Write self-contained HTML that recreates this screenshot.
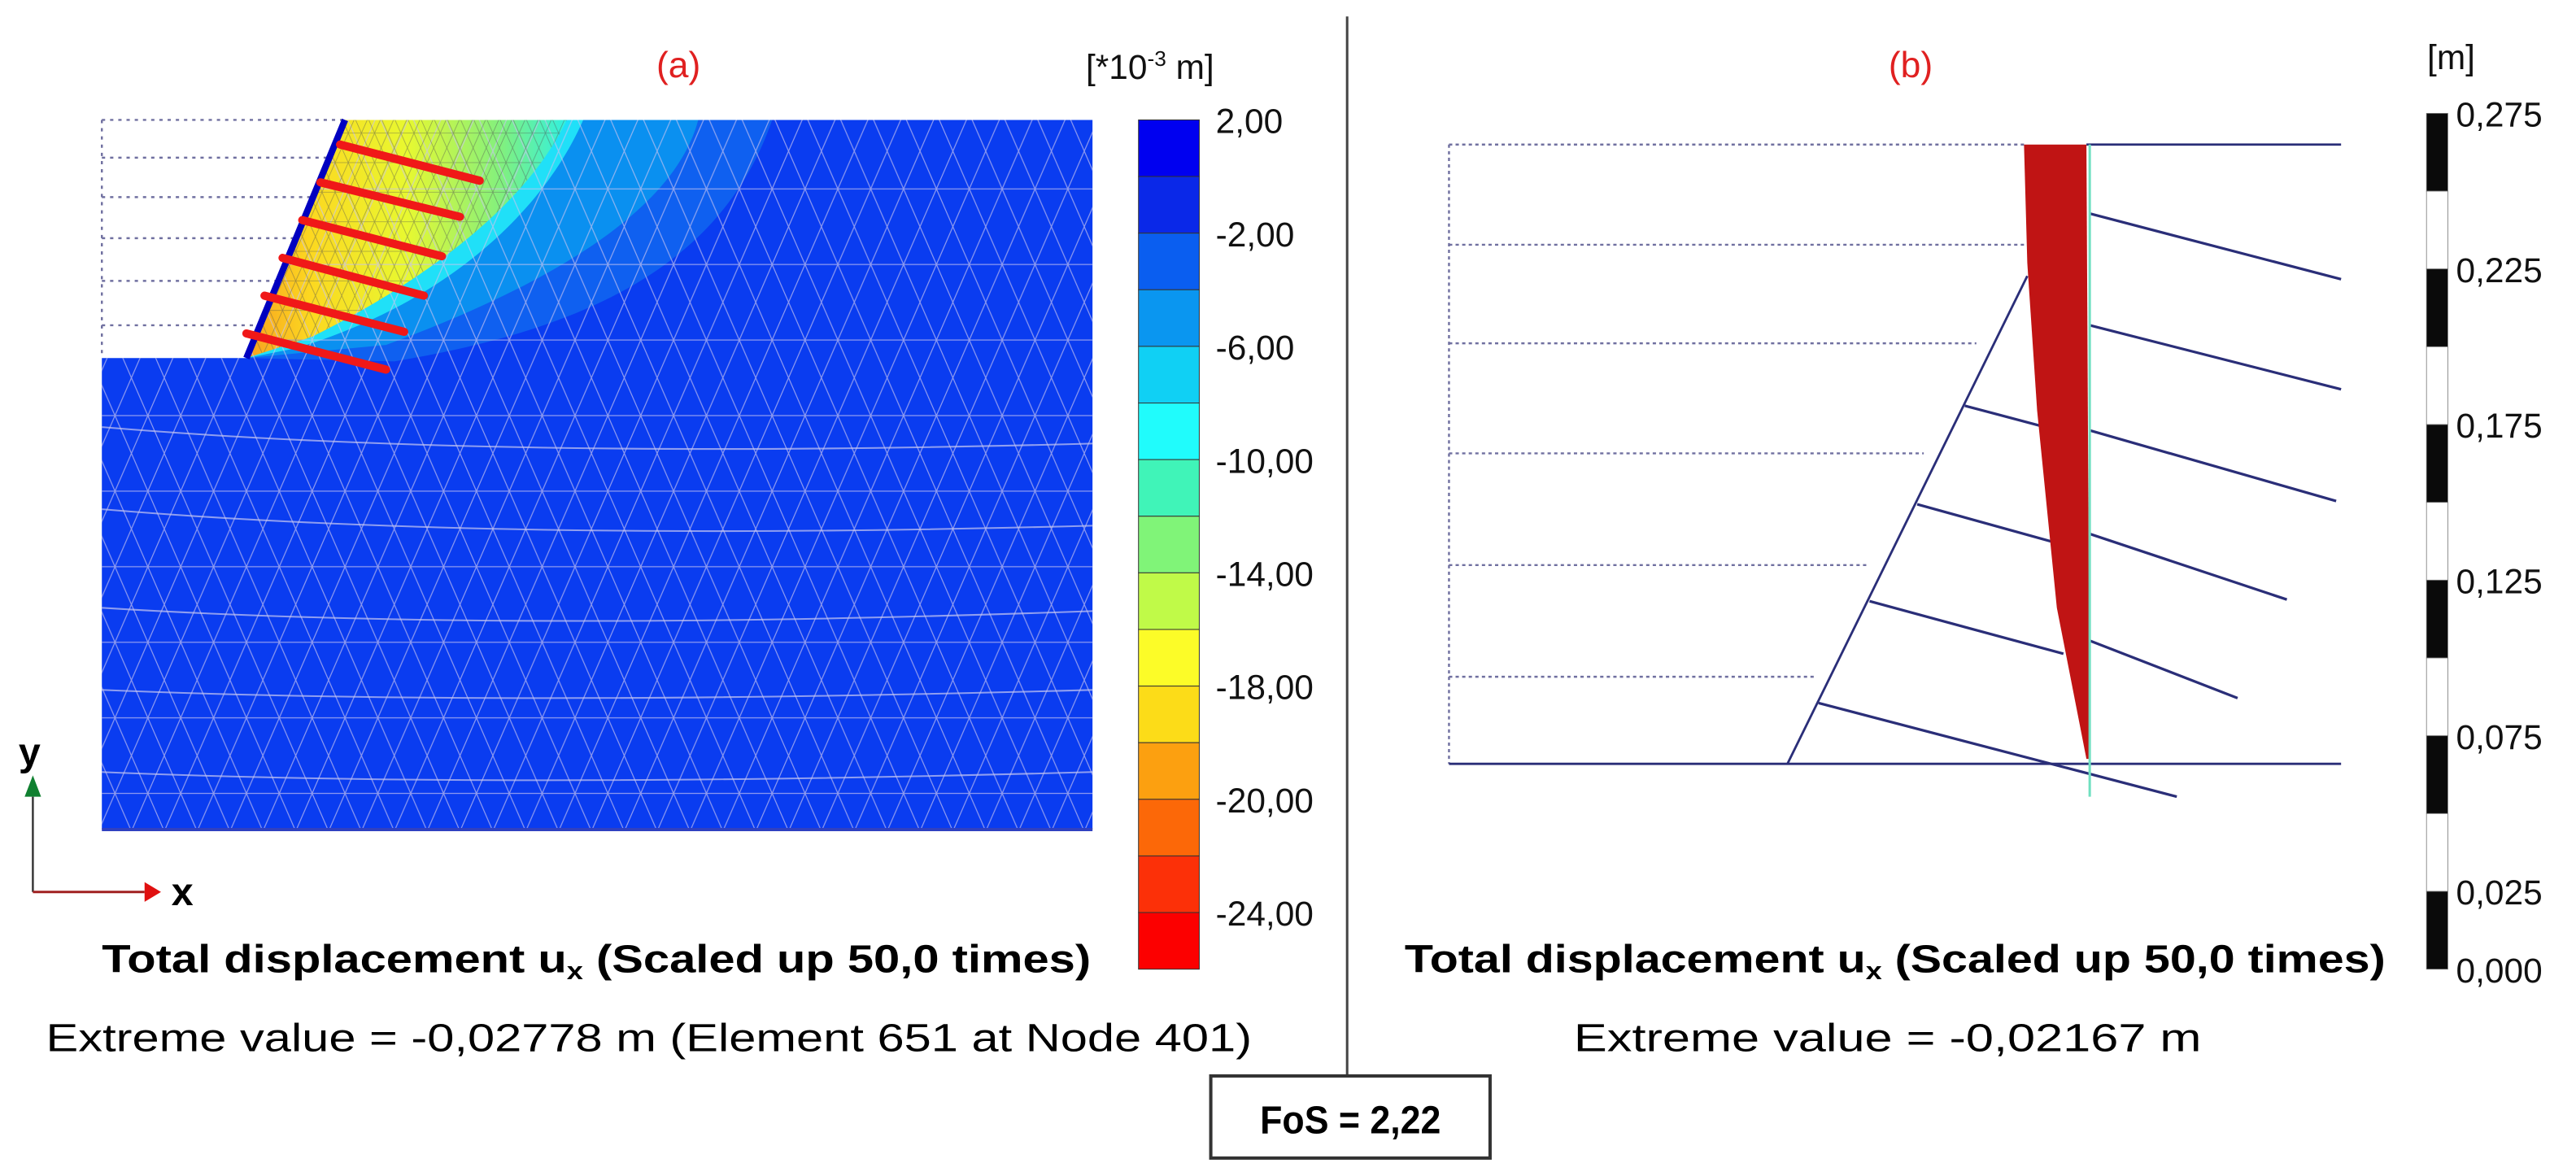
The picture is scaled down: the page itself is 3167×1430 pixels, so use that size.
<!DOCTYPE html>
<html><head><meta charset="utf-8"><style>
html,body{margin:0;padding:0;background:#fff;}
svg{display:block;font-family:"Liberation Sans",sans-serif;}
</style></head><body>
<svg id="fig" width="3167" height="1430" viewBox="0 0 1568 708" preserveAspectRatio="none" xmlns="http://www.w3.org/2000/svg">
<defs>
<pattern id="mesh" width="40" height="46" patternUnits="userSpaceOnUse">
<path d="M0 0 L20 46 L40 0 M0 46 L20 0 L40 46 M0 23 L40 23" stroke="#c8c4f0" stroke-width="0.6" fill="none" opacity="0.7"/>
</pattern>
<pattern id="meshfine" width="16" height="18" patternUnits="userSpaceOnUse">
<path d="M0 0 L8 18 L16 0 M0 18 L8 0 L16 18 M0 9 L16 9" stroke="#505050" stroke-width="0.4" fill="none" opacity="0.5"/>
</pattern>
<linearGradient id="hot" x1="0" y1="0" x2="1" y2="0">
<stop offset="0" stop-color="#f8a020"/><stop offset="0.2" stop-color="#fcd820"/><stop offset="0.5" stop-color="#e8f830"/><stop offset="0.8" stop-color="#80f080"/><stop offset="1" stop-color="#30f0e0"/>
</linearGradient>
</defs>

<g id="panel-a">
<text x="413" y="47" font-size="22" fill="#e02020" text-anchor="middle">(a)</text>
<text x="700" y="48" font-size="21" fill="#111" text-anchor="middle">[*10<tspan font-size="13" dy="-8">-3</tspan><tspan dy="8"> m]</tspan></text>
<!-- excavated dotted outline -->
<g stroke="#7070a0" stroke-width="1.2" stroke-dasharray="2 3" fill="none">
<line x1="62" y1="73" x2="62" y2="218"/>
<line x1="62" y1="73" x2="210" y2="73"/>
<line x1="62" y1="96" x2="200" y2="96"/>
<line x1="62" y1="120" x2="190" y2="120"/>
<line x1="62" y1="145" x2="180" y2="145"/>
<line x1="62" y1="171" x2="170" y2="171"/>
<line x1="62" y1="198" x2="160" y2="198"/>
</g>
<path d="M62 218 L150 218 L210 73 L665 73 L665 505 L62 505 Z" fill="#0a3cf0"/>
<path d="M210 73 L470 73 C440 160 360 200 240 220 L150 218 Z" fill="#1064f0" opacity="0.9"/>
<path d="M210 73 L425 73 C410 130 330 175 235 210 L150 218 Z" fill="#0a90f0"/>
<path d="M210 73 L355 73 C330 130 270 185 180 212 L150 218 Z" fill="#20e0f8"/>
<path d="M210 73 L345 73 C320 125 260 170 190 205 L150 218 Z" fill="url(#hot)"/>
<path d="M62 218 L150 218 L210 73 L665 73 L665 505 L62 505 Z" fill="url(#mesh)"/>
<path d="M210 73 L345 73 C320 125 260 170 190 205 L150 218 Z" fill="url(#meshfine)"/>
<g stroke="#c8c8f0" stroke-width="1" fill="none" opacity="0.7">
<path d="M62 470 Q300 480 665 470"/><path d="M62 420 Q300 430 665 420"/><path d="M62 370 Q300 385 665 372"/><path d="M62 310 Q300 330 665 320"/><path d="M62 260 Q300 280 665 270"/>
</g>
<line x1="150" y1="218" x2="210" y2="73" stroke="#0000c0" stroke-width="4"/>
<rect x="62" y="73" width="603" height="432" fill="none" stroke="#0a2ad0" stroke-width="0" />
<line x1="62" y1="505" x2="665" y2="505" stroke="#3040c0" stroke-width="2"/>
<g id="anchors-a" stroke="#f01818" stroke-width="5" stroke-linecap="round">
<line x1="207" y1="88" x2="292" y2="110"/>
<line x1="195" y1="111" x2="280" y2="132"/>
<line x1="184" y1="134" x2="269" y2="156"/>
<line x1="172" y1="157" x2="258" y2="180"/>
<line x1="161" y1="180" x2="246" y2="202"/>
<line x1="150" y1="203" x2="235" y2="225"/>
</g>
<g id="colorbar-a"></g>
<g>
<line x1="20" y1="485" x2="20" y2="543" stroke="#333" stroke-width="1.2"/>
<line x1="20" y1="543" x2="88" y2="543" stroke="#a02020" stroke-width="1.5"/>
<polygon points="88,537 98,543 88,549" fill="#e01010"/>
<polygon points="15,485 20,472 25,485" fill="#108030"/>
<text x="18" y="466" font-size="24" font-weight="bold" text-anchor="middle">y</text>
<text x="111" y="551" font-size="24" font-weight="bold" text-anchor="middle">x</text>
</g>
<text x="62" y="592" font-size="24" font-weight="bold" textLength="602" lengthAdjust="spacingAndGlyphs">Total displacement u<tspan font-size="15" dy="4">x</tspan><tspan dy="-4"> (Scaled up 50,0 times)</tspan></text>
<text x="28" y="640" font-size="24" textLength="734" lengthAdjust="spacingAndGlyphs">Extreme value = -0,02778 m (Element 651 at Node 401)</text>
</g>

<line x1="820" y1="10" x2="820" y2="655" stroke="#444" stroke-width="1.5"/>
<g>
<rect x="737" y="655" width="170" height="50" fill="#fff" stroke="#333" stroke-width="2"/>
<text x="822" y="690" font-size="24" font-weight="bold" text-anchor="middle" textLength="110" lengthAdjust="spacingAndGlyphs">FoS = 2,22</text>
</g>

<g id="panel-b">
<text x="1163" y="47" font-size="22" fill="#e02020" text-anchor="middle">(b)</text>
<text x="1492" y="42" font-size="21" fill="#111" text-anchor="middle">[m]</text>
<g stroke="#7070a0" stroke-width="1.2" stroke-dasharray="2 2" fill="none">
<line x1="882" y1="88" x2="882" y2="465"/>
<line x1="882" y1="88" x2="1232" y2="88"/>
<line x1="882" y1="149" x2="1232" y2="149"/>
<line x1="882" y1="209" x2="1203" y2="209"/>
<line x1="882" y1="276" x2="1171" y2="276"/>
<line x1="882" y1="344" x2="1138" y2="344"/>
<line x1="882" y1="412" x2="1105" y2="412"/>
</g>
<g stroke="#2a2e78" stroke-width="1.4" fill="none">
<line x1="1270" y1="88" x2="1425" y2="88"/>
<line x1="882" y1="465" x2="1425" y2="465"/>
<line x1="1088" y1="465" x2="1234" y2="168"/>
</g>
<g stroke="#2a2e78" stroke-width="1.6">
<line x1="1272" y1="130" x2="1425" y2="170"/>
<line x1="1272" y1="198" x2="1425" y2="237"/>
<line x1="1272" y1="262" x2="1422" y2="305"/>
<line x1="1272" y1="325" x2="1392" y2="365"/>
<line x1="1272" y1="390" x2="1362" y2="425"/>
<line x1="1196" y1="247" x2="1245" y2="260"/>
<line x1="1167" y1="307" x2="1250" y2="330"/>
<line x1="1138" y1="366" x2="1256" y2="398"/>
<line x1="1107" y1="428" x2="1325" y2="485"/>
</g>
<polygon points="1232,88 1270,88 1272,462 1270,462 1252,370 1240,250 1234,160" fill="#c01414"/>
<line x1="1272" y1="88" x2="1272" y2="485" stroke="#70e0c0" stroke-width="1.5"/>
<g id="colorbar-b"></g>
<text x="855" y="592" font-size="24" font-weight="bold" textLength="597" lengthAdjust="spacingAndGlyphs">Total displacement u<tspan font-size="15" dy="4">x</tspan><tspan dy="-4"> (Scaled up 50,0 times)</tspan></text>
<text x="958" y="640" font-size="24" textLength="382" lengthAdjust="spacingAndGlyphs">Extreme value = -0,02167 m</text>
</g>
</svg>
<script>
const bandColorsA = ["#0000f0","#0a28e8","#0a5ef0","#0a96f0","#10d0f4","#20fcfc","#40f4b8","#80f478","#c0fa48","#fcfc28","#fcdc18","#fca010","#fc6808","#fc3008","#fc0000"];
const tickLabelsA = ["2,00","-2,00","-6,00","-10,00","-14,00","-18,00","-20,00","-24,00"];
const tickBandA = [0,2,4,6,8,10,12,14];
const tickLabelsB = ["0,275","0,225","0,175","0,125","0,075","0,025","0,000"];
const tickValuesB = [0.275,0.225,0.175,0.125,0.075,0.025,0.0];
const segmentCountB = 11;
const NS = "http://www.w3.org/2000/svg";
function mk(tag, attrs, parent){const e=document.createElementNS(NS,tag);for(const k in attrs)e.setAttribute(k,attrs[k]);parent.appendChild(e);return e;}
// colorbar A
const cbA = document.getElementById('colorbar-a');
const aTop=73, aBot=590, aX=693, aW=37;
const bandH=(aBot-aTop)/bandColorsA.length;
const yBandA = i => aTop + i*bandH;
bandColorsA.forEach((c,i)=>{
  const r=mk('rect',{x:aX,y:yBandA(i),width:aW,height:bandH,fill:c,stroke:'#333','stroke-width':0.5},cbA);
  
  
});
tickLabelsA.forEach((t,i)=>{
  const e=mk('text',{x:740,y:yBandA(tickBandA[i])+8,'font-size':21,fill:'#111'},cbA);
  e.textContent=t;
  
  
});
// colorbar B
const cbB = document.getElementById('colorbar-b');
const bTop=69, bBot=590, bX=1477, bW=13, vMax=0.275, vMin=0;
const yB = v => bBot - (v - vMin)/(vMax - vMin)*(bBot-bTop);
const segH=(bBot-bTop)/segmentCountB;
for(let i=0;i<segmentCountB;i++){
  const r=mk('rect',{x:bX,y:bTop+i*segH,width:bW,height:segH,fill:(i%2===0)?'#0a0a0a':'#ffffff',stroke:'#777','stroke-width':0.4},cbB);
  
  
}
tickLabelsB.forEach((t,i)=>{
  const e=mk('text',{x:1495,y:yB(tickValuesB[i])+8,'font-size':21,fill:'#111'},cbB);
  e.textContent=t;
  
  
});
</script>
</body></html>
